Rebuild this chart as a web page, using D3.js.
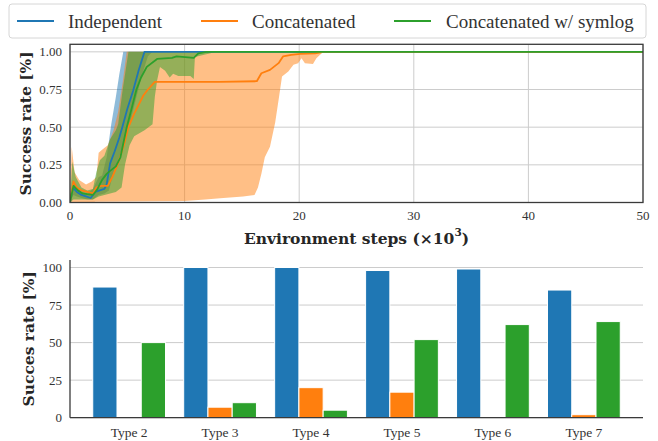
<!DOCTYPE html>
<html><head><meta charset="utf-8">
<script src="https://cdn.jsdelivr.net/npm/d3@7"></script>
<style>
body{margin:0;background:#fff;}
text{font-family:"Liberation Serif","Times New Roman",serif;fill:#333;}
.lab{font-family:"DejaVu Serif",serif;font-weight:bold;fill:#262626;}
</style></head><body>
<svg id="c" width="658" height="441"></svg>
<script>
// ---------- data: top panel (x in 10^3 steps) ----------
const seriesNames = ["Independent", "Concatenated", "Concatenated w/ symlog"];
const seriesColors = ["#1f77b4", "#ff7f0e", "#2ca02c"];

const indepMeanX = [0, 0.25, 0.6, 1.0, 1.4, 1.8, 2.2, 2.6, 3.0, 3.2, 3.5, 3.9, 4.3, 4.6, 5.0, 5.5, 6.0, 6.5, 7.0, 50];
const indepMeanY = [0, 0.10, 0.07, 0.05, 0.04, 0.03, 0.07, 0.08, 0.09, 0.12, 0.26, 0.34, 0.43, 0.51, 0.62, 0.74, 0.88, 1.0, 1.0, 1.0];
const indepUpX = [0, 0.25, 0.6, 1.0, 1.5, 2.0, 2.5, 2.8, 3.2, 3.6, 4.0, 4.3, 4.65, 50];
const indepUpY = [0, 0.15, 0.10, 0.07, 0.06, 0.09, 0.17, 0.18, 0.30, 0.52, 0.70, 0.85, 1.0, 1.0];
const indepLoX = [0, 0.3, 0.6, 1.0, 1.5, 2.0, 2.5, 3.0, 3.4, 3.8, 4.3, 4.8, 5.3, 5.8, 6.3, 6.8, 7.2, 50];
const indepLoY = [0, 0.05, 0.04, 0.03, 0.02, 0.02, 0.05, 0.06, 0.08, 0.20, 0.30, 0.42, 0.55, 0.70, 0.85, 0.97, 1.0, 1.0];

const concMeanX = [0, 0.3, 0.6, 1.0, 1.5, 2.0, 2.3, 2.7, 3.3, 3.7, 4.2, 4.7, 5.1, 5.6, 6.0, 6.4, 6.8, 7.4, 10, 13, 16.3, 16.7, 17.45, 18.2, 18.6, 19.3, 20.1, 21.4, 22.1, 50];
const concMeanY = [0, 0.14, 0.10, 0.08, 0.07, 0.06, 0.10, 0.11, 0.11, 0.17, 0.26, 0.38, 0.50, 0.59, 0.65, 0.71, 0.75, 0.80, 0.80, 0.80, 0.805, 0.858, 0.88, 0.925, 0.97, 0.98, 0.987, 0.99, 1.0, 1.0];
const concUpX = [0, 0.15, 0.4, 0.8, 1.4, 1.9, 2.3, 2.5, 2.8, 3.3, 3.8, 4.2, 4.6, 4.95, 50];
const concUpY = [0, 0.37, 0.20, 0.15, 0.12, 0.14, 0.17, 0.33, 0.35, 0.38, 0.48, 0.60, 0.80, 1.0, 1.0];
const concLoX = [0, 2.0, 2.2, 10, 11.8, 13.1, 15.1, 16.1, 16.4, 16.7, 17.0, 17.45, 17.9, 18.2, 18.5, 19.05, 19.5, 19.9, 20.2, 20.5, 21.2, 21.5, 22.1, 50];
const concLoY = [0, 0, 0.005, 0.01, 0.02, 0.028, 0.04, 0.05, 0.10, 0.19, 0.30, 0.37, 0.53, 0.68, 0.836, 0.87, 0.914, 0.925, 0.958, 0.925, 0.92, 0.958, 1.0, 1.0];

const symMeanX = [0, 0.3, 0.7, 1.1, 1.5, 2.0, 2.4, 2.8, 3.2, 3.5, 4.0, 4.4, 4.95, 5.4, 5.8, 6.2, 6.7, 7.6, 8.9, 9.3, 10.8, 11.2, 11.9, 50];
const symMeanY = [0, 0.11, 0.08, 0.06, 0.055, 0.05, 0.09, 0.15, 0.19, 0.21, 0.24, 0.30, 0.50, 0.63, 0.75, 0.83, 0.90, 0.953, 0.96, 0.97, 0.96, 0.99, 1.0, 1.0];
const symUpX = [0, 0.2, 0.5, 1.0, 1.5, 2.0, 2.3, 2.6, 3.0, 3.5, 4.0, 4.2, 4.6, 5.1, 50];
const symUpY = [0, 0.27, 0.17, 0.10, 0.08, 0.09, 0.20, 0.28, 0.31, 0.42, 0.48, 0.52, 0.75, 1.0, 1.0];
const symLoX = [0, 0.3, 1.0, 2.0, 2.5, 3.0, 3.5, 4.0, 4.5, 4.8, 5.2, 5.6, 6.5, 7.2, 7.4, 7.6, 7.85, 8.3, 8.7, 9.0, 9.45, 10.5, 10.8, 10.9, 12.8, 50];
const symLoY = [0, 0.02, 0.02, 0.02, 0.04, 0.05, 0.06, 0.07, 0.10, 0.25, 0.38, 0.44, 0.48, 0.52, 0.70, 0.81, 0.90, 0.875, 0.83, 0.854, 0.84, 0.84, 0.82, 0.965, 1.0, 1.0];

const topXTicks = [0, 10, 20, 30, 40, 50];
const topYTicks = [0, 0.25, 0.5, 0.75, 1.0];

// ---------- data: bottom panel ----------
const barCategories = ["Type 2", "Type 3", "Type 4", "Type 5", "Type 6", "Type 7"];
const barIndependent = [87, 100, 100, 98, 99, 85];
const barConcatenated = [0, 7, 20, 17, 0.4, 2];
const barSymlog = [50, 10, 5, 52, 62, 64];
const bottomYTicks = [0, 25, 50, 75, 100];

// ---------- drawing ----------
const svg = d3.select("#c");
const L = 70, R = 643;

// top panel
const xT = d3.scaleLinear().domain([0, 50]).range([L, R]);
const yT = d3.scaleLinear().domain([0, 1.05]).range([202.5, 44.3]);
const gT = svg.append("g");

gT.selectAll(".gx").data(topXTicks).join("line")
  .attr("x1", d => xT(d)).attr("x2", d => xT(d)).attr("y1", yT(0)).attr("y2", yT(1.05))
  .attr("stroke", "#cccccc").attr("stroke-width", 1);
gT.selectAll(".gy").data(topYTicks).join("line")
  .attr("x1", L).attr("x2", R).attr("y1", d => yT(d)).attr("y2", d => yT(d))
  .attr("stroke", "#cccccc").attr("stroke-width", 1);

const zip = (xs, ys) => xs.map((x, i) => [x, ys[i]]);
const lineGen = d3.line().x(d => xT(d[0])).y(d => yT(d[1]));
const series = [
  {mean: zip(indepMeanX, indepMeanY), up: zip(indepUpX, indepUpY), lo: zip(indepLoX, indepLoY)},
  {mean: zip(concMeanX, concMeanY), up: zip(concUpX, concUpY), lo: zip(concLoX, concLoY)},
  {mean: zip(symMeanX, symMeanY), up: zip(symUpX, symUpY), lo: zip(symLoX, symLoY)}
];
svg.append("clipPath").attr("id", "clipT").append("rect")
  .attr("x", L).attr("y", yT(1.05)).attr("width", R - L).attr("height", yT(0) - yT(1.05) + 1);
const gData = gT.append("g").attr("clip-path", "url(#clipT)");
series.forEach((s, i) => {
  const poly = s.up.concat(s.lo.slice().reverse());
  gData.append("path").attr("d", lineGen(poly) + "Z")
    .attr("fill", seriesColors[i]).attr("fill-opacity", 0.5).attr("stroke", "none");
});
series.forEach((s, i) => {
  gData.append("path").attr("d", lineGen(s.mean))
    .attr("fill", "none").attr("stroke", seriesColors[i]).attr("stroke-width", 1.8)
    .attr("stroke-linejoin", "round");
});
gT.append("rect").attr("x", L).attr("y", yT(1.05)).attr("width", R - L).attr("height", yT(0) - yT(1.05))
  .attr("fill", "none").attr("stroke", "#3a3a3a").attr("stroke-width", 1.3);

gT.selectAll(".tx").data(topXTicks).join("text")
  .attr("x", d => xT(d)).attr("y", 215).attr("text-anchor", "middle").attr("dominant-baseline", "central")
  .attr("font-size", 13).text(d => d);
gT.selectAll(".ty").data(topYTicks).join("text")
  .attr("x", 62).attr("y", d => yT(d)).attr("text-anchor", "end").attr("dominant-baseline", "central")
  .attr("font-size", 13).text(d => d3.format(".2f")(d));

svg.append("text").attr("class", "lab").attr("font-size", 15.5)
  .attr("transform", `translate(25,${(yT(0) + yT(1.05)) / 2}) rotate(-90)`)
  .attr("text-anchor", "middle").attr("dominant-baseline", "central").text("Success rate [%]");
const xl = svg.append("text").attr("class", "lab").attr("font-size", 15.5)
  .attr("x", (L + R) / 2).attr("y", 238).attr("text-anchor", "middle").attr("dominant-baseline", "central");
xl.append("tspan").text("Environment steps (×10");
xl.append("tspan").attr("font-size", 10.5).attr("dy", -6).text("3");
xl.append("tspan").attr("dy", 6).text(")");

// legend
const lg = svg.append("g");
lg.append("rect").attr("x", 9).attr("y", 4).attr("width", 637).attr("height", 34).attr("rx", 3)
  .attr("fill", "#fff").attr("fill-opacity", 0.8).attr("stroke", "#d6d6d6");
const legHandleX = [17, 201, 394];
const legTextX = [68, 252, 446];
seriesNames.forEach((n, i) => {
  lg.append("line").attr("x1", legHandleX[i]).attr("x2", legHandleX[i] + 37).attr("y1", 21).attr("y2", 21)
    .attr("stroke", seriesColors[i]).attr("stroke-width", 1.8);
  lg.append("text").attr("x", legTextX[i]).attr("y", 21).attr("dominant-baseline", "central")
    .attr("font-size", 19).attr("fill", "#262626").text(n);
});

// bottom panel
const xB = d3.scaleLinear().domain([-0.65, 5.65]).range([L, R]);
const yB = d3.scaleLinear().domain([0, 105]).range([417.7, 260]);
const gB = svg.append("g");
gB.selectAll(".gyb").data(bottomYTicks).join("line")
  .attr("x1", L).attr("x2", R).attr("y1", d => yB(d)).attr("y2", d => yB(d))
  .attr("stroke", "#cccccc").attr("stroke-width", 1);
const bw = 0.8 / 3;
const barSeries = [barIndependent, barConcatenated, barSymlog];
barSeries.forEach((vals, s) => {
  gB.selectAll(null).data(vals).join("rect")
    .attr("x", (d, i) => xB(i + (s - 1) * bw - bw / 2))
    .attr("width", xB(bw) - xB(0))
    .attr("y", d => yB(d)).attr("height", d => yB(0) - yB(d))
    .attr("fill", seriesColors[s]).attr("stroke", "#fff").attr("stroke-width", 1);
});
gB.append("line").attr("x1", L).attr("x2", L).attr("y1", yB(0)).attr("y2", yB(105))
  .attr("stroke", "#3a3a3a").attr("stroke-width", 1.3);
gB.append("line").attr("x1", L).attr("x2", R).attr("y1", yB(0)).attr("y2", yB(0))
  .attr("stroke", "#3a3a3a").attr("stroke-width", 1.3);
gB.selectAll(".tyb").data(bottomYTicks).join("text")
  .attr("x", 62).attr("y", d => yB(d)).attr("text-anchor", "end").attr("dominant-baseline", "central")
  .attr("font-size", 13).text(d => d);
gB.selectAll(".txb").data(barCategories).join("text")
  .attr("x", (d, i) => xB(i)).attr("y", 432).attr("text-anchor", "middle").attr("dominant-baseline", "central")
  .attr("font-size", 13.5).text(d => d);
svg.append("text").attr("class", "lab").attr("font-size", 15.5)
  .attr("transform", `translate(28,${(yB(0) + yB(105)) / 2}) rotate(-90)`)
  .attr("text-anchor", "middle").attr("dominant-baseline", "central").text("Succes rate [%]");
</script></body></html>
